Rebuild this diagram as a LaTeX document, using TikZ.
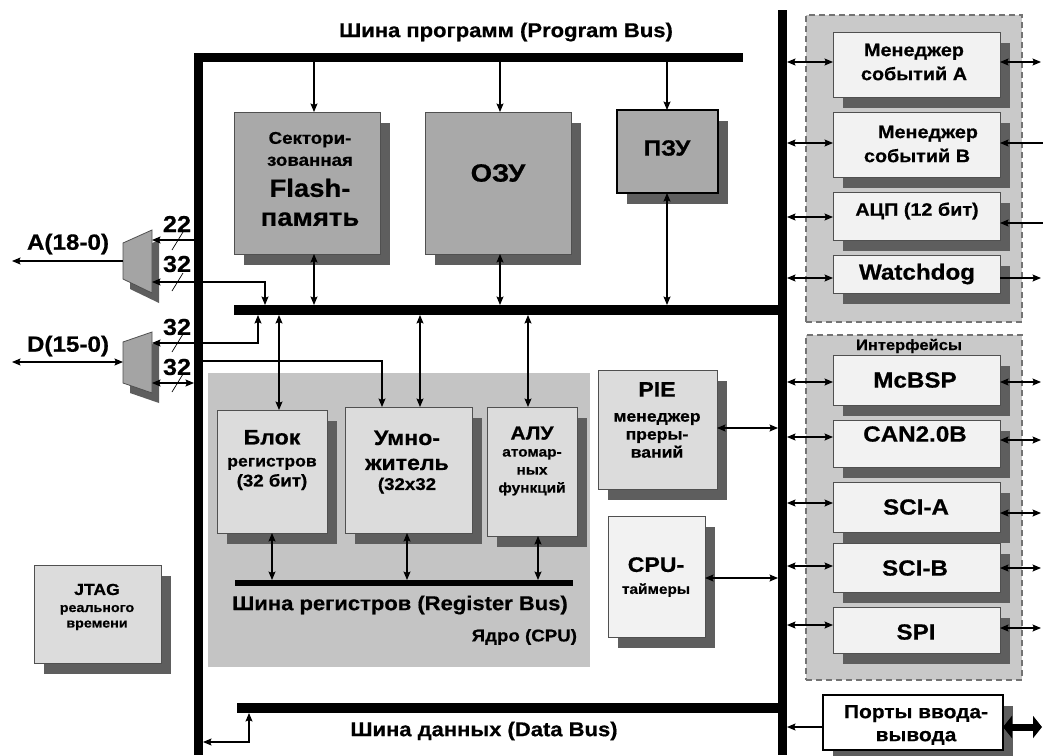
\documentclass[tikz,border=0pt]{standalone}
\usepackage{fontspec}
\setmainfont{Liberation Sans}[FakeStretch=1.1, BoldFeatures={FakeBold=0.6}]
\usetikzlibrary{arrows.meta,shadows,fit,calc}
\newcommand\fsz[1]{\fontsize{#1}{#1}\selectfont}
\definecolor{shd}{HTML}{5E5E5E}
\definecolor{memc}{HTML}{A9A9A9}
\definecolor{corec}{HTML}{C4C4C4}
\definecolor{lightc}{HTML}{DCDCDC}
\definecolor{palec}{HTML}{F2F2F2}
\definecolor{grpc}{HTML}{C9C9C9}
\definecolor{edgec}{HTML}{505050}
\definecolor{muxc}{HTML}{A4A4A4}
\begin{document}
\begin{tikzpicture}[x=1pt,y=-1pt,
  every node/.style={inner sep=0pt, outer sep=0pt},
  bus/.style={fill=black, draw=none},
  box/.style={draw=edgec, line width=0.8pt, general shadow={fill=shd, shadow xshift=10pt, shadow yshift=-11pt}},
  grp/.style={fill=grpc, draw=edgec!80, dashed, dash pattern=on 6pt off 4pt, line width=1.1pt},
  txt/.style={align=center, text=black},
  con/.style={line width=1.1pt, -{Stealth[length=8.5pt,width=7pt,inset=1.5pt]}},
  bicon/.style={line width=1.1pt, {Stealth[length=8.5pt,width=7pt,inset=1.5pt]}-{Stealth[length=8.5pt,width=7pt,inset=1.5pt]}},
  slash/.style={line width=0.7pt}
]
\fill[white] (0,0) rectangle (1043,755);
\useasboundingbox (0,0) rectangle (1043,755);

% backgrounds
\node[fill=corec, fit={(208,373)(590,667)}] (core) {};
\node[grp, fit={(806,15)(1022,322)}] (grp1) {};
\node[grp, fit={(806,335)(1022,680)}] (grp2) {};

% buses
\node[bus, fit={(196,53)(743,62)}] (progbus) {};
\node[bus, fit={(194,53)(203,755)}] (lbus) {};
\node[bus, fit={(778,10)(787,755)}] (rbus) {};
\node[bus, fit={(234,305)(787,315)}] (midbus) {};
\node[bus, fit={(237,703)(787,713)}] (databus) {};
\node[bus, fit={(235,580)(573,586)}] (regbus) {};

% memory boxes
\node[box, fill=memc, fit={(234,112)(380,254)}] (flash) {};
\node[box, fill=memc, fit={(425,112)(571,254)}] (ozu) {};
\node[box, fill=memc, draw=black, line width=2pt, fit={(617,110)(718,193)}] (pzu) {};

% core boxes
\node[box, fill=lightc, fit={(217,410)(327,533)}] (blok) {};
\node[box, fill=lightc, fit={(345,407)(472,533)}] (umn) {};
\node[box, fill=lightc, fit={(487,407)(577,536)}] (alu) {};
\node[box, fill=lightc, fit={(598,370)(717,489)}] (pie) {};
\node[box, fill=palec, fit={(608,516)(705,637)}] (tmr) {};
\node[box, fill=lightc, fit={(34,565)(161,663)}] (jtag) {};

% peripherals
\node[box, fill=palec, fit={(833,32)(1000,97)}] (evA) {};
\node[box, fill=palec, fit={(833,112)(1000,177)}] (evB) {};
\node[box, fill=palec, fit={(833,192)(1000,240)}] (adc) {};
\node[box, fill=palec, fit={(833,255)(1000,293)}] (wd) {};
\node[box, fill=palec, fit={(833,355)(1000,405)}] (mcbsp) {};
\node[box, fill=palec, fit={(833,420)(1000,467)}] (can) {};
\node[box, fill=palec, fit={(833,482)(1000,532)}] (scia) {};
\node[box, fill=palec, fit={(833,543)(1000,592)}] (scib) {};
\node[box, fill=palec, fit={(833,607)(1000,653)}] (spi) {};
\node[box, fill=white, draw=black, line width=1.3pt, fit={(823,695)(1003,750)}] (ports) {};

% multiplexers
\fill[shd] (130,253) -- (159,240) -- (159,303) -- (130,289) -- cycle;
\filldraw[fill=muxc, draw=edgec, line width=0.8pt] (123,243) -- (152,230) -- (152,293) -- (123,279) -- cycle;
\fill[shd] (130,352) -- (159,342) -- (159,403) -- (130,393) -- cycle;
\filldraw[fill=muxc, draw=edgec, line width=0.8pt] (123,342) -- (152,332) -- (152,393) -- (123,383) -- cycle;
\coordinate (muxAr) at (152,261);
\coordinate (muxAl) at (123,261);
\coordinate (muxDr) at (152,362);
\coordinate (muxDl) at (123,362);
\coordinate (Aend) at (12,261);
\coordinate (Dend) at (12,362);
\coordinate (aTap) at (265,282);
\coordinate (dTap) at (258,343);
\coordinate (uTap) at (382,361);
\coordinate (dbTap) at (249,742);

% left side connectors
\draw[con] (lbus.west |- 0,240) -- (muxAr |- 0,240);
\draw[bicon] (muxAr |- aTap) -- (aTap) -- (aTap |- midbus.north);
\draw[bicon] (muxDr |- dTap) -- (dTap) -- (dTap |- midbus.south);
\draw[bicon] (muxDr |- 0,383) -- (lbus.west |- 0,383);
\draw[con] (muxAl) -- (Aend);
\draw[bicon] (Dend) -- (muxDl);
\draw[con] (lbus.east |- uTap) -- (uTap) -- (uTap |- umn.north);
\draw[bicon] (lbus.east |- dbTap) -- (dbTap) -- (dbTap |- databus.south);

% slashes
\draw[slash] (172,250) -- (183,232);
\draw[slash] (172,291) -- (183,273);
\draw[slash] (172,352) -- (183,334);
\draw[slash] (172,392) -- (183,374);

% program bus to memories
\draw[con] (progbus.south -| 314,0) -- (flash.north -| 314,0);
\draw[con] (progbus.south -| 500,0) -- (ozu.north -| 500,0);
\draw[con] (progbus.south -| 667,0) -- (pzu.north -| 667,0);
\draw[bicon] (flash.south -| 314,0) -- (midbus.north -| 314,0);
\draw[bicon] (ozu.south -| 500,0) -- (midbus.north -| 500,0);
\draw[bicon] (pzu.south -| 667,0) -- (midbus.north -| 667,0);

% mid bus to core
\draw[bicon] (midbus.south -| 279,0) -- (blok.north -| 279,0);
\draw[bicon] (midbus.south -| 420,0) -- (umn.north -| 420,0);
\draw[bicon] (midbus.south -| 528,0) -- (alu.north -| 528,0);

% register bus
\draw[bicon] (blok.south -| 272,0) -- (regbus.north -| 272,0);
\draw[bicon] (umn.south -| 407,0) -- (regbus.north -| 407,0);
\draw[bicon] (alu.south -| 538,0) -- (regbus.north -| 538,0);

% PIE, timers
\draw[bicon] (pie.east |- 0,428) -- (rbus.west |- 0,428);
\draw[bicon] (tmr.east |- 0,578) -- (rbus.west |- 0,578);

% peripherals left
\draw[bicon] (rbus.east |- 0,62) -- (evA.west |- 0,62);
\draw[bicon] (rbus.east |- 0,143) -- (evB.west |- 0,143);
\draw[bicon] (rbus.east |- 0,217) -- (adc.west |- 0,217);
\draw[bicon] (rbus.east |- 0,278) -- (wd.west |- 0,278);
\draw[bicon] (rbus.east |- 0,382) -- (mcbsp.west |- 0,382);
\draw[bicon] (rbus.east |- 0,437) -- (can.west |- 0,437);
\draw[bicon] (rbus.east |- 0,503) -- (scia.west |- 0,503);
\draw[bicon] (rbus.east |- 0,566) -- (scib.west |- 0,566);
\draw[bicon] (rbus.east |- 0,625) -- (spi.west |- 0,625);

% peripherals right
\draw[bicon] (evA.east |- 0,62) -- (1041,62);
\draw[con] (1043,143) -- (evB.east |- 0,143);
\draw[con] (1043,223) -- (adc.east |- 0,223);
\draw[con] (wd.east |- 0,278) -- (1041,278);
\draw[bicon] (mcbsp.east |- 0,382) -- (1041,382);
\draw[bicon] (can.east |- 0,440) -- (1041,440);
\draw[bicon] (scia.east |- 0,513) -- (1041,513);
\draw[bicon] (scib.east |- 0,568) -- (1041,568);
\draw[bicon] (spi.east |- 0,628) -- (1041,628);

% ports
\draw[con] (ports.west |- 0,727) -- (rbus.east |- 0,727);
\draw[line width=7pt, {Triangle[length=9pt,width=22pt]}-{Triangle[length=9pt,width=22pt]}] (ports.east |- 0,727) -- (1042,727);

% texts
\node[txt, font=\bfseries\fsz{20}] (pbl) at (506,32) {Шина программ (Program Bus)};
\node[txt, font=\bfseries\fontsize{17}{22}\selectfont] (flashT) at (310,179) {Сектори-\\зованная\\[9pt]{\fsz{25}Flash-}\\[7pt]{\fsz{25}память}};
\node[txt, font=\bfseries\fsz{25}] (ozuT) at (498,173) {ОЗУ};
\node[txt, font=\bfseries\fsz{22}] (pzuT) at (667,148) {ПЗУ};
\node[txt, font=\bfseries\fontsize{16}{20}\selectfont] (blokT) at (272,460) {{\fsz{21}Блок}\\[2pt]регистров\\{\fsz{17}(32 бит)}};
\node[txt, font=\bfseries\fontsize{21}{25}\selectfont] (umnT) at (407,462) {Умно-\\житель\\[-5pt]{\fsz{17}(32x32}};
\node[txt, font=\bfseries\fontsize{14}{18}\selectfont] (aluT) at (532,461) {{\fsz{19}АЛУ}\\[-1pt]атомар-\\ных\\функций};
\node[txt, font=\bfseries\fontsize{16}{18}\selectfont] (pieT) at (657,420) {{\fsz{21}PIE}\\[7pt]менеджер\\преры-\\ваний};
\node[txt, font=\bfseries\fontsize{14}{22}\selectfont] (tmrT) at (656,577) {{\fsz{21}CPU-}\\таймеры};
\node[txt, font=\bfseries\fontsize{13}{15.5}\selectfont] (jtagT) at (97,607) {{\fsz{16}JTAG}\\[1.5pt]реального\\времени};
\node[txt, font=\bfseries\fontsize{18}{24}\selectfont] (evAT) at (914,62) {Менеджер\\событий А};
\node[txt, font=\bfseries\fontsize{18}{24}\selectfont] (evBT) at (917,144) {\hspace*{22pt}Менеджер\\событий B};
\node[txt, font=\bfseries\fsz{18}] (adcT) at (917,211) {АЦП (12 бит)};
\node[txt, font=\bfseries\fsz{22}] (wdT) at (917,274) {Watchdog};
\node[txt, font=\bfseries\fsz{15}] (ifT) at (909,346) {Интерфейсы};
\node[txt, font=\bfseries\fsz{22}] (mcbspT) at (915,380) {McBSP};
\node[txt, font=\bfseries\fsz{22}] (canT) at (915,434) {CAN2.0B};
\node[txt, font=\bfseries\fsz{22}] (sciaT) at (916,507) {SCI-A};
\node[txt, font=\bfseries\fsz{22}] (scibT) at (915,568) {SCI-B};
\node[txt, font=\bfseries\fsz{22}] (spiT) at (916,632) {SPI};
\node[txt, font=\bfseries\fontsize{19}{23}\selectfont] (portsT) at (916,725) {Порты ввода-\\вывода};
\node[txt, font=\bfseries\fsz{22}] (aT) at (68,244) {A(18-0)};
\node[txt, font=\bfseries\fsz{22}] (dT) at (68,346) {D(15-0)};
\node[txt, font=\bfseries\fsz{23}] (n1) at (177,224) {22};
\node[txt, font=\bfseries\fsz{23}] (n2) at (177,264) {32};
\node[txt, font=\bfseries\fsz{23}] (n3) at (177,327) {32};
\node[txt, font=\bfseries\fsz{23}] (n4) at (177,367) {32};
\node[txt, font=\bfseries\fsz{20}] (rbl) at (400,605) {Шина регистров (Register Bus)};
\node[txt, font=\bfseries\fsz{17}, anchor=east] (cpuL) at (577,637) {Ядро (CPU)};
\node[txt, font=\bfseries\fsz{20}] (dbl) at (484,731) {Шина данных (Data Bus)};
\end{tikzpicture}
\end{document}
